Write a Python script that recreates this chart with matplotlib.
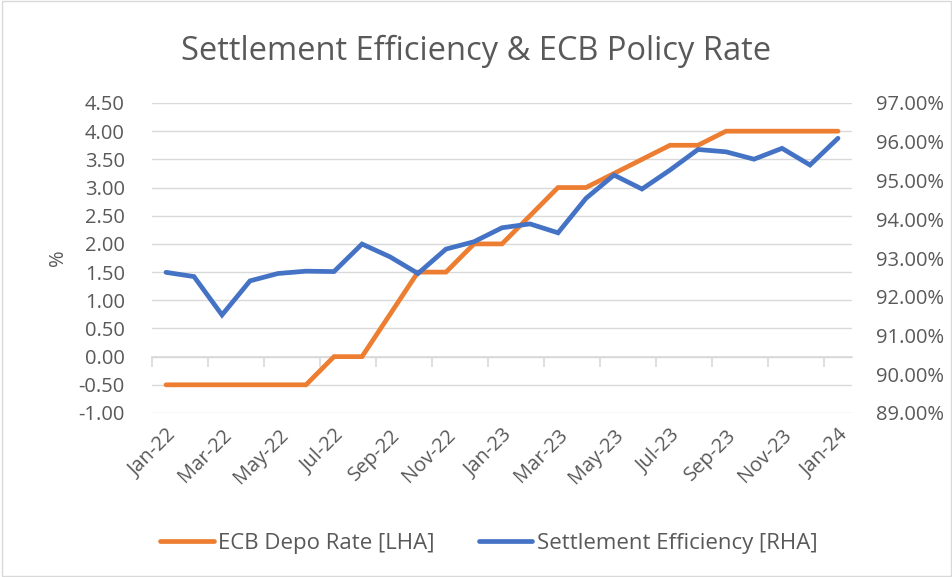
import matplotlib
matplotlib.use("Agg")
import matplotlib.pyplot as plt
from matplotlib.patches import Rectangle
from matplotlib.ticker import FuncFormatter, FixedLocator
import numpy as np

plt.rcParams['font.family'] = ['Open Sans', 'DejaVu Sans']

months = ["Jan-22", "Feb-22", "Mar-22", "Apr-22", "May-22", "Jun-22", "Jul-22", "Aug-22",
          "Sep-22", "Oct-22", "Nov-22", "Dec-22", "Jan-23", "Feb-23", "Mar-23", "Apr-23",
          "May-23", "Jun-23", "Jul-23", "Aug-23", "Sep-23", "Oct-23", "Nov-23", "Dec-23", "Jan-24"]
ecb_depo_rate = [-0.50, -0.50, -0.50, -0.50, -0.50, -0.50, 0.00, 0.00, 0.75, 1.50, 1.50, 2.00,
                 2.00, 2.50, 3.00, 3.00, 3.25, 3.50, 3.75, 3.75, 4.00, 4.00, 4.00, 4.00, 4.00]
settlement_eff = [92.63, 92.52, 91.53, 92.41, 92.60, 92.66, 92.65, 93.36, 93.03, 92.60, 93.23, 93.42,
                  93.78, 93.88, 93.65, 94.54, 95.14, 94.78, 95.27, 95.80, 95.74, 95.55, 95.83, 95.40, 96.09]

title = "Settlement Efficiency & ECB Policy Rate"
label_ecb = "ECB Depo Rate [LHA]"
label_se = "Settlement Efficiency [RHA]"

ORANGE = "#ED7D31"
BLUE = "#4472C4"
GRID = "#D9D9D9"
TEXT = "#595959"
TICK_FS = 14.5

fig = plt.figure(figsize=(9.53, 5.77), dpi=100)
fig.patches.append(Rectangle((0.002, 0.002), 0.996, 0.996, transform=fig.transFigure,
                             fill=False, edgecolor="#D9D9D9", linewidth=1.0))

ax = fig.add_axes([152/953, 1-413/577, 700/953, 310/577])
ax2 = ax.twinx()

x = np.arange(len(months))

l1, = ax.plot(x, ecb_depo_rate, color=ORANGE, lw=3.4, solid_capstyle='round',
              solid_joinstyle='miter', zorder=3, label=label_ecb)
l2, = ax2.plot(x, settlement_eff, color=BLUE, lw=3.4, solid_capstyle='round',
               solid_joinstyle='miter', zorder=3, label=label_se)

ax.set_xlim(-0.5, len(months) - 0.5)
ax.set_ylim(-1.0, 4.5)
ax.set_yticks(np.arange(-1.0, 4.51, 0.5))
ax.yaxis.set_major_formatter(FuncFormatter(lambda v, p: f"{v:.2f}"))
ax2.set_ylim(89, 97)
ax2.set_yticks(np.arange(89, 97.01, 1))
ax2.yaxis.set_major_formatter(FuncFormatter(lambda v, p: f"{v:.2f}%"))

ax.grid(axis='y', color=GRID, lw=1.0, zorder=0)
ax.set_axisbelow(True)
for a in (ax, ax2):
    for s in a.spines.values():
        s.set_visible(False)

ax.set_xticks(x[::2])
ax.set_xticklabels(months[::2], rotation=45, ha='right', rotation_mode='anchor')
ax.tick_params(axis='x', length=0, pad=9, labelsize=TICK_FS, labelcolor=TEXT)
ax.tick_params(axis='y', length=0, pad=19.5, labelsize=TICK_FS, labelcolor=TEXT)
ax2.tick_params(axis='y', length=0, pad=17, labelsize=TICK_FS, labelcolor=TEXT)

# category axis crossing at zero with tick marks between categories
zero_frac = (0 - (-1.0)) / (4.5 - (-1.0))
sec = ax.secondary_xaxis(zero_frac)
sec.spines['bottom'].set_color(GRID)
sec.spines['bottom'].set_linewidth(1.2)
sec.xaxis.set_major_locator(FixedLocator(np.arange(-0.5, len(months) - 0.5, 2)))
sec.tick_params(axis='x', direction='out', length=7, width=1.2, color=GRID, labelbottom=False)

ax.set_ylabel("%", color=TEXT, fontsize=TICK_FS, labelpad=7.5)

fig.text(0.5, 1 - 60/577, title, ha='center', va='baseline', fontsize=23.5, color=TEXT)

leg = fig.legend([l1, l2], [label_ecb, label_se], loc='center', bbox_to_anchor=(0.513, 1 - 543/577),
                 ncol=2, frameon=False, fontsize=16, handlelength=2.4, columnspacing=2.0,
                 handletextpad=0.2)
for t in leg.get_texts():
    t.set_color(TEXT)

fig.savefig("out.png", dpi=100)
